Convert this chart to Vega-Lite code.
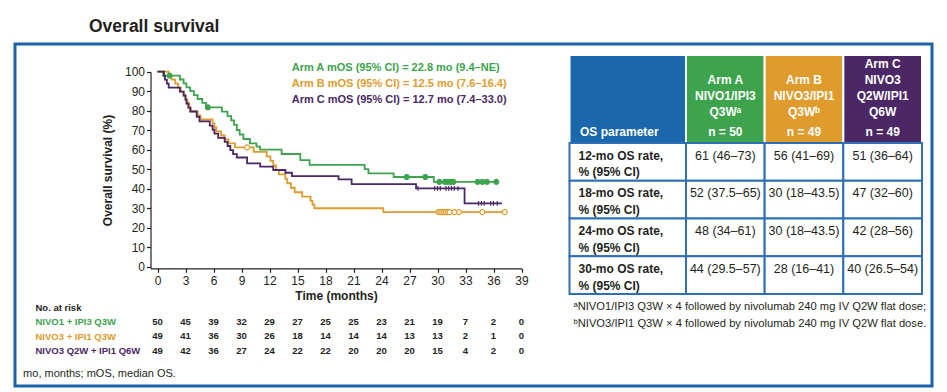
{
  "$schema": "https://vega.github.io/schema/vega-lite/v6.json",
  "width": 917,
  "height": 342,
  "autosize": {"type": "none"},
  "padding": {"left": 15, "top": 44, "right": 15, "bottom": 6},
  "background": "white",
  "title": {"text": "Overall survival", "anchor": "start", "frame": "group", "dx": 74, "offset": 9, "font": "Liberation Sans, Arial, sans-serif", "fontSize": 17.5, "fontWeight": "bold", "color": "#231f20"},
  "datasets": {
    "km": [
      {"arm":"A","t":0,"s":100},{"arm":"A","t":0.6,"s":98},{"arm":"A","t":2.4,"s":96},{"arm":"A","t":2.8,"s":94},{"arm":"A","t":3.1,"s":92},{"arm":"A","t":3.5,"s":90},{"arm":"A","t":3.9,"s":88},{"arm":"A","t":4.3,"s":86},{"arm":"A","t":4.8,"s":84},{"arm":"A","t":5.2,"s":81.7},{"arm":"A","t":6.9,"s":79.5},{"arm":"A","t":7.5,"s":77.2},{"arm":"A","t":7.9,"s":75},{"arm":"A","t":8.2,"s":72.7},{"arm":"A","t":8.5,"s":70.1},{"arm":"A","t":8.8,"s":67.8},{"arm":"A","t":9.2,"s":65.5},{"arm":"A","t":9.9,"s":63.3},{"arm":"A","t":10.6,"s":61.6},{"arm":"A","t":11,"s":60},{"arm":"A","t":13.3,"s":57.8},{"arm":"A","t":15.3,"s":54.7},{"arm":"A","t":16.3,"s":52.2},{"arm":"A","t":22.2,"s":50},{"arm":"A","t":22.6,"s":47.9},{"arm":"A","t":25.3,"s":46},{"arm":"A","t":29.6,"s":43.5},{"arm":"A","t":36.3,"s":43.5},
      {"arm":"B","t":0,"s":100},{"arm":"B","t":1.2,"s":97.9},{"arm":"B","t":1.5,"s":95.9},{"arm":"B","t":1.9,"s":93.9},{"arm":"B","t":2.2,"s":91.8},{"arm":"B","t":2.5,"s":89.8},{"arm":"B","t":2.8,"s":87.8},{"arm":"B","t":3,"s":85.7},{"arm":"B","t":3.2,"s":83.7},{"arm":"B","t":3.4,"s":81.6},{"arm":"B","t":3.6,"s":79.6},{"arm":"B","t":4.3,"s":77.6},{"arm":"B","t":4.6,"s":75.5},{"arm":"B","t":5.9,"s":73.5},{"arm":"B","t":6.1,"s":71.4},{"arm":"B","t":6.3,"s":69.4},{"arm":"B","t":6.8,"s":67.3},{"arm":"B","t":7.2,"s":65.3},{"arm":"B","t":7.6,"s":63.3},{"arm":"B","t":8.3,"s":61.2},{"arm":"B","t":10.3,"s":58.9},{"arm":"B","t":11.7,"s":56.6},{"arm":"B","t":12.1,"s":54.3},{"arm":"B","t":12.4,"s":52},{"arm":"B","t":12.7,"s":49.7},{"arm":"B","t":13,"s":47.4},{"arm":"B","t":13.7,"s":45.1},{"arm":"B","t":13.9,"s":42.8},{"arm":"B","t":14.3,"s":40.5},{"arm":"B","t":14.7,"s":38.2},{"arm":"B","t":15.5,"s":35.9},{"arm":"B","t":16.4,"s":33.8},{"arm":"B","t":16.6,"s":31.9},{"arm":"B","t":16.8,"s":30},{"arm":"B","t":24.2,"s":28},{"arm":"B","t":37.2,"s":28},
      {"arm":"C","t":0,"s":100},{"arm":"C","t":0.7,"s":97.9},{"arm":"C","t":0.8,"s":95.9},{"arm":"C","t":1,"s":93.9},{"arm":"C","t":1.2,"s":91.8},{"arm":"C","t":2.4,"s":89.8},{"arm":"C","t":2.8,"s":87.8},{"arm":"C","t":3,"s":85.7},{"arm":"C","t":3.1,"s":83.7},{"arm":"C","t":3.3,"s":81.6},{"arm":"C","t":3.5,"s":79.6},{"arm":"C","t":4.2,"s":76.9},{"arm":"C","t":4.5,"s":74.5},{"arm":"C","t":5.6,"s":72.4},{"arm":"C","t":5.9,"s":70.3},{"arm":"C","t":6.1,"s":68.2},{"arm":"C","t":6.5,"s":66.1},{"arm":"C","t":7.2,"s":64},{"arm":"C","t":7.5,"s":61.9},{"arm":"C","t":7.8,"s":59.8},{"arm":"C","t":8.1,"s":57.7},{"arm":"C","t":8.5,"s":56},{"arm":"C","t":9.6,"s":53},{"arm":"C","t":11,"s":51.3},{"arm":"C","t":12.4,"s":49.6},{"arm":"C","t":13.7,"s":48.2},{"arm":"C","t":14.4,"s":46.5},{"arm":"C","t":19.4,"s":44.8},{"arm":"C","t":20.8,"s":42.4},{"arm":"C","t":27.7,"s":40.2},{"arm":"C","t":32.9,"s":32.5},{"arm":"C","t":36.9,"s":32.5}
    ],
    "censor": [
      {"arm":"A","t":1.3,"s":98},{"arm":"A","t":5.4,"s":81.7},{"arm":"A","t":26.7,"s":46},{"arm":"A","t":28.7,"s":46},{"arm":"A","t":30.2,"s":43.5},{"arm":"A","t":30.8,"s":43.5},{"arm":"A","t":31.1,"s":43.5},{"arm":"A","t":31.4,"s":43.5},{"arm":"A","t":31.7,"s":43.5},{"arm":"A","t":34.3,"s":43.5},{"arm":"A","t":34.8,"s":43.5},{"arm":"A","t":35.3,"s":43.5},{"arm":"A","t":36.3,"s":43.5},
      {"arm":"B","t":9.6,"s":61.2},{"arm":"B","t":30.1,"s":28},{"arm":"B","t":30.3,"s":28},{"arm":"B","t":30.5,"s":28},{"arm":"B","t":30.7,"s":28},{"arm":"B","t":30.9,"s":28},{"arm":"B","t":31.1,"s":28},{"arm":"B","t":31.3,"s":28},{"arm":"B","t":31.8,"s":28},{"arm":"B","t":32.3,"s":28},{"arm":"B","t":34.8,"s":28},{"arm":"B","t":37.2,"s":28},
      {"arm":"C","t":27.9,"s":40.2},{"arm":"C","t":29.7,"s":40.2},{"arm":"C","t":30,"s":40.2},{"arm":"C","t":30.3,"s":40.2},{"arm":"C","t":30.9,"s":40.2},{"arm":"C","t":31.2,"s":40.2},{"arm":"C","t":31.5,"s":40.2},{"arm":"C","t":31.8,"s":40.2},{"arm":"C","t":32.2,"s":40.2},{"arm":"C","t":34.4,"s":32.5},{"arm":"C","t":34.7,"s":32.5},{"arm":"C","t":35,"s":32.5},{"arm":"C","t":35.7,"s":32.5},{"arm":"C","t":36,"s":32.5},{"arm":"C","t":36.4,"s":32.5}
    ],
    "mos": [
      {"arm":"A","label":"Arm A mOS (95% CI) = 22.8 mo (9.4–NE)"},
      {"arm":"B","label":"Arm B mOS (95% CI) = 12.5 mo (7.6–16.4)"},
      {"arm":"C","label":"Arm C mOS (95% CI) = 12.7 mo (7.4–33.0)"}
    ],
    "risk": [
      {"regimen":"NIVO1 + IPI3 Q3W","t":0,"n":50},{"regimen":"NIVO1 + IPI3 Q3W","t":3,"n":45},{"regimen":"NIVO1 + IPI3 Q3W","t":6,"n":39},{"regimen":"NIVO1 + IPI3 Q3W","t":9,"n":32},{"regimen":"NIVO1 + IPI3 Q3W","t":12,"n":29},{"regimen":"NIVO1 + IPI3 Q3W","t":15,"n":27},{"regimen":"NIVO1 + IPI3 Q3W","t":18,"n":25},{"regimen":"NIVO1 + IPI3 Q3W","t":21,"n":25},{"regimen":"NIVO1 + IPI3 Q3W","t":24,"n":23},{"regimen":"NIVO1 + IPI3 Q3W","t":27,"n":21},{"regimen":"NIVO1 + IPI3 Q3W","t":30,"n":19},{"regimen":"NIVO1 + IPI3 Q3W","t":33,"n":7},{"regimen":"NIVO1 + IPI3 Q3W","t":36,"n":2},{"regimen":"NIVO1 + IPI3 Q3W","t":39,"n":0},
      {"regimen":"NIVO3 + IPI1 Q3W","t":0,"n":49},{"regimen":"NIVO3 + IPI1 Q3W","t":3,"n":41},{"regimen":"NIVO3 + IPI1 Q3W","t":6,"n":36},{"regimen":"NIVO3 + IPI1 Q3W","t":9,"n":30},{"regimen":"NIVO3 + IPI1 Q3W","t":12,"n":26},{"regimen":"NIVO3 + IPI1 Q3W","t":15,"n":18},{"regimen":"NIVO3 + IPI1 Q3W","t":18,"n":14},{"regimen":"NIVO3 + IPI1 Q3W","t":21,"n":14},{"regimen":"NIVO3 + IPI1 Q3W","t":24,"n":14},{"regimen":"NIVO3 + IPI1 Q3W","t":27,"n":13},{"regimen":"NIVO3 + IPI1 Q3W","t":30,"n":13},{"regimen":"NIVO3 + IPI1 Q3W","t":33,"n":2},{"regimen":"NIVO3 + IPI1 Q3W","t":36,"n":1},{"regimen":"NIVO3 + IPI1 Q3W","t":39,"n":0},
      {"regimen":"NIVO3 Q2W + IPI1 Q6W","t":0,"n":49},{"regimen":"NIVO3 Q2W + IPI1 Q6W","t":3,"n":42},{"regimen":"NIVO3 Q2W + IPI1 Q6W","t":6,"n":36},{"regimen":"NIVO3 Q2W + IPI1 Q6W","t":9,"n":27},{"regimen":"NIVO3 Q2W + IPI1 Q6W","t":12,"n":24},{"regimen":"NIVO3 Q2W + IPI1 Q6W","t":15,"n":22},{"regimen":"NIVO3 Q2W + IPI1 Q6W","t":18,"n":22},{"regimen":"NIVO3 Q2W + IPI1 Q6W","t":21,"n":20},{"regimen":"NIVO3 Q2W + IPI1 Q6W","t":24,"n":20},{"regimen":"NIVO3 Q2W + IPI1 Q6W","t":27,"n":20},{"regimen":"NIVO3 Q2W + IPI1 Q6W","t":30,"n":15},{"regimen":"NIVO3 Q2W + IPI1 Q6W","t":33,"n":4},{"regimen":"NIVO3 Q2W + IPI1 Q6W","t":36,"n":2},{"regimen":"NIVO3 Q2W + IPI1 Q6W","t":39,"n":0}
    ],
    "head": [
      {"arm":"A","n":"n = 50"},
      {"arm":"B","n":"n = 49"},
      {"arm":"C","n":"n = 49"}
    ],
    "headlines": [
      {"arm":"A","ln":2,"text":"Arm A"},{"arm":"A","ln":3,"text":"NIVO1/IPI3"},{"arm":"A","ln":4,"text":"Q3Wᵃ"},
      {"arm":"B","ln":2,"text":"Arm B"},{"arm":"B","ln":3,"text":"NIVO3/IPI1"},{"arm":"B","ln":4,"text":"Q3Wᵇ"},
      {"arm":"C","ln":1,"text":"Arm C"},{"arm":"C","ln":2,"text":"NIVO3"},{"arm":"C","ln":3,"text":"Q2W/IPI1"},{"arm":"C","ln":4,"text":"Q6W"}
    ],
    "params": [
      {"col":"P","row":"12-mo","param":"12-mo OS rate,\n% (95% CI)"},
      {"col":"P","row":"18-mo","param":"18-mo OS rate,\n% (95% CI)"},
      {"col":"P","row":"24-mo","param":"24-mo OS rate,\n% (95% CI)"},
      {"col":"P","row":"30-mo","param":"30-mo OS rate,\n% (95% CI)"}
    ],
    "cells": [
      {"arm":"A","row":"12-mo","value":"61 (46–73)"},{"arm":"B","row":"12-mo","value":"56 (41–69)"},{"arm":"C","row":"12-mo","value":"51 (36–64)"},
      {"arm":"A","row":"18-mo","value":"52 (37.5–65)"},{"arm":"B","row":"18-mo","value":"30 (18–43.5)"},{"arm":"C","row":"18-mo","value":"47 (32–60)"},
      {"arm":"A","row":"24-mo","value":"48 (34–61)"},{"arm":"B","row":"24-mo","value":"30 (18–43.5)"},{"arm":"C","row":"24-mo","value":"42 (28–56)"},
      {"arm":"A","row":"30-mo","value":"44 (29.5–57)"},{"arm":"B","row":"30-mo","value":"28 (16–41)"},{"arm":"C","row":"30-mo","value":"40 (26.5–54)"}
    ]
  },
  "layer": [
    {
      "layer": [
        {
          "data": {"name": "km"},
          "mark": {"type": "line", "interpolate": "step-after", "strokeWidth": 1.8},
          "encoding": {
            "x": {"field": "t", "type": "quantitative", "scale": {"domain": [-0.75, 39], "range": [135.5, 506.5], "nice": false, "zero": false},
              "axis": {"values": [0,3,6,9,12,15,18,21,24,27,30,33,36,39], "title": "Time (months)", "offset": -117.7, "domainWidth": 1.2, "tickWidth": 1.2, "tickSize": 4, "labelFontSize": 12, "labelPadding": 3.5, "labelFlush": false, "labelOverlap": false, "titleFontSize": 12, "titleFontWeight": "bold", "titlePadding": 4}},
            "y": {"field": "s", "type": "quantitative", "scale": {"domain": [-0.8, 100], "range": [224.3, 27.7], "nice": false, "zero": false},
              "axis": {"values": [0,10,20,30,40,50,60,70,80,90,100], "tickCount": 11, "title": "Overall survival (%)", "offset": -135.5, "domainWidth": 1.2, "tickWidth": 1.2, "tickSize": 4, "labelFontSize": 12, "labelPadding": 2, "labelOverlap": false, "titleFontSize": 12, "titleFontWeight": "bold", "titlePadding": 10}},
            "color": {"field": "arm", "type": "nominal", "scale": {"domain": ["A","B","C"], "range": ["#3da44d","#e09b2d","#4b2865"]}, "legend": null}
          }
        },
        {
          "data": {"name": "censor"},
          "mark": {"type": "point", "size": 24, "strokeWidth": 1.2, "opacity": 1, "filled": true},
          "encoding": {
            "x": {"field": "t", "type": "quantitative",
              "axis": {"values": [0,3,6,9,12,15,18,21,24,27,30,33,36,39], "title": "Time (months)", "offset": -117.7, "domainWidth": 1.2, "tickWidth": 1.2, "tickSize": 4, "labelFontSize": 12, "labelPadding": 3.5, "labelFlush": false, "labelOverlap": false, "titleFontSize": 12, "titleFontWeight": "bold", "titlePadding": 4}},
            "y": {"field": "s", "type": "quantitative",
              "axis": {"values": [0,10,20,30,40,50,60,70,80,90,100], "tickCount": 11, "title": "Overall survival (%)", "offset": -135.5, "domainWidth": 1.2, "tickWidth": 1.2, "tickSize": 4, "labelFontSize": 12, "labelPadding": 2, "labelOverlap": false, "titleFontSize": 12, "titleFontWeight": "bold", "titlePadding": 10}},
            "shape": {"field": "arm", "type": "nominal", "scale": {"domain": ["A","B","C"], "range": ["circle","circle","M0,-1L0,1"]}, "legend": null},
            "fill": {"field": "arm", "type": "nominal", "scale": {"domain": ["A","B","C"], "range": ["#3da44d","#ffffff","#4b2865"]}, "legend": null},
            "stroke": {"field": "arm", "type": "nominal", "scale": {"domain": ["A","B","C"], "range": ["#3da44d","#e09b2d","#4b2865"]}, "legend": null}
          }
        }
      ]
    },
    {
      "data": {"name": "mos"},
      "mark": {"type": "text", "align": "left", "baseline": "middle", "font": "Liberation Sans, Arial, sans-serif", "fontSize": 11, "fontWeight": "bold"},
      "encoding": {
        "x": {"datum": 14.38, "type": "quantitative", "scale": {"domain": [-0.75, 39], "range": [135.5, 506.5], "nice": false, "zero": false}, "axis": null},
        "y": {"field": "arm", "type": "nominal", "scale": {"type": "point", "domain": ["A","B","C"], "range": [24.3, 55.9], "padding": 0}, "axis": null},
        "text": {"field": "label"},
        "color": {"field": "arm", "type": "nominal", "scale": {"domain": ["A","B","C"], "range": ["#3da44d","#e09b2d","#4b2865"]}, "legend": null}
      }
    },
    {
      "layer": [
        {
          "data": {"name": "risk"},
          "mark": {"type": "text", "font": "Liberation Sans, Arial, sans-serif", "fontSize": 9.5, "fontWeight": "bold", "color": "#231f20", "baseline": "middle", "align": "center"},
          "encoding": {
            "x": {"field": "t", "type": "quantitative", "scale": {"domain": [-0.75, 39], "range": [135.5, 506.5], "nice": false, "zero": false}, "axis": null},
            "y": {"field": "regimen", "type": "nominal", "scale": {"type": "point", "domain": ["No. at risk", "NIVO1 + IPI3 Q3W", "NIVO3 + IPI1 Q3W", "NIVO3 Q2W + IPI1 Q6W"], "range": [263.3, 306.9], "padding": 0},
              "axis": {"orient": "left", "offset": -20, "domain": false, "ticks": false, "tickSize": 0, "labelPadding": 0, "labelAlign": "left", "labelBaseline": "middle", "labelFontSize": 9.5, "labelFontWeight": "bold", "labelOverlap": false, "labelBound": false, "labelLimit": 0, "title": null,
                "labelColor": {"condition": [{"test": "datum.value === 'NIVO1 + IPI3 Q3W'", "value": "#3da44d"}, {"test": "datum.value === 'NIVO3 + IPI1 Q3W'", "value": "#e09b2d"}, {"test": "datum.value === 'NIVO3 Q2W + IPI1 Q6W'", "value": "#4b2865"}], "value": "#231f20"}}},
            "text": {"field": "n"}
          }
        },
        {
          "data": {"values": [{"note": "mo, months; mOS, median OS."}]},
          "mark": {"type": "text", "align": "left", "baseline": "middle", "dy": 23.2, "font": "Liberation Sans, Arial, sans-serif", "fontSize": 11, "color": "#231f20"},
          "encoding": {
            "x": {"datum": -14.4, "type": "quantitative"},
            "y": {"datum": "NIVO3 Q2W + IPI1 Q6W", "type": "nominal"},
            "text": {"field": "note"}
          }
        }
      ]
    },
    {
      "data": {"values": [{"col": "P", "label": "OS parameter"}]},
      "layer": [
        {
          "mark": {"type": "rect", "fill": "#1a67ab", "stroke": "white", "strokeWidth": 2},
          "encoding": {
            "x": {"field": "col", "type": "nominal", "scale": {"type": "band", "domain": ["P"], "range": [554.5, 671], "paddingInner": 0, "paddingOuter": 0}, "axis": null},
            "y": {"datum": "H", "type": "nominal", "scale": {"type": "band", "domain": ["H"], "range": [11, 99], "paddingInner": 0, "paddingOuter": 0}, "axis": null}
          }
        },
        {
          "mark": {"type": "text", "align": "left", "baseline": "middle", "dx": 10.5, "dy": 33.4, "font": "Liberation Sans, Arial, sans-serif", "fontSize": 12, "fontWeight": "bold", "color": "white"},
          "encoding": {
            "x": {"field": "col", "type": "nominal", "bandPosition": 0},
            "y": {"datum": "H", "type": "nominal"},
            "text": {"field": "label"}
          }
        }
      ]
    },
    {
      "data": {"name": "head"},
      "layer": [
        {
          "mark": {"type": "rect", "stroke": "white", "strokeWidth": 2},
          "encoding": {
            "x": {"field": "arm", "type": "nominal", "scale": {"type": "band", "domain": ["A","B","C"], "range": [671, 907], "paddingInner": 0, "paddingOuter": 0}, "axis": null},
            "y": {"datum": "H", "type": "nominal", "scale": {"type": "band", "domain": ["H"], "range": [11, 99], "paddingInner": 0, "paddingOuter": 0}, "axis": null},
            "color": {"field": "arm", "type": "nominal", "scale": {"domain": ["A","B","C"], "range": ["#3da44d","#e09b2d","#4b2865"]}, "legend": null}
          }
        },
        {
          "mark": {"type": "text", "align": "center", "baseline": "middle", "dy": 33.4, "font": "Liberation Sans, Arial, sans-serif", "fontSize": 12, "fontWeight": "bold", "color": "white"},
          "encoding": {
            "x": {"field": "arm", "type": "nominal"},
            "y": {"datum": "H", "type": "nominal"},
            "text": {"field": "n"}
          }
        }
      ]
    },
    {
      "data": {"name": "headlines"},
      "mark": {"type": "text", "align": "center", "baseline": "middle", "font": "Liberation Sans, DejaVu Sans, sans-serif", "fontSize": 12, "fontWeight": "bold", "color": "white"},
      "encoding": {
        "x": {"field": "arm", "type": "nominal", "scale": {"type": "band", "domain": ["A","B","C"], "range": [671, 907], "paddingInner": 0, "paddingOuter": 0}, "axis": null},
        "y": {"field": "ln", "type": "ordinal", "scale": {"type": "point", "domain": [1,2,3,4], "range": [20, 68.4], "padding": 0}, "axis": null},
        "text": {"field": "text"}
      }
    },
    {
      "layer": [
        {
          "data": {"name": "params"},
          "mark": {"type": "rect", "fill": "white", "stroke": "#2e6fb5", "strokeWidth": 2},
          "encoding": {
            "x": {"field": "col", "type": "nominal", "scale": {"type": "band", "domain": ["P"], "range": [554.5, 671], "paddingInner": 0, "paddingOuter": 0}, "axis": null},
            "y": {"field": "row", "type": "nominal", "scale": {"type": "band", "domain": ["12-mo","18-mo","24-mo","30-mo"], "range": [99, 250], "paddingInner": 0, "paddingOuter": 0}, "axis": null}
          }
        },
        {
          "data": {"name": "params"},
          "mark": {"type": "text", "align": "left", "baseline": "middle", "dx": 9, "dy": -6.2, "lineBreak": "\n", "lineHeight": 16.7, "font": "Liberation Sans, Arial, sans-serif", "fontSize": 12, "fontWeight": "bold", "color": "#231f20"},
          "encoding": {
            "x": {"field": "col", "type": "nominal", "bandPosition": 0},
            "y": {"field": "row", "type": "nominal"},
            "text": {"field": "param"}
          }
        },
        {
          "data": {"values": [{"note": "ᵃNIVO1/IPI3 Q3W × 4 followed by nivolumab 240 mg IV Q2W flat dose;\nᵇNIVO3/IPI1 Q3W × 4 followed by nivolumab 240 mg IV Q2W flat dose."}]},
          "mark": {"type": "text", "align": "left", "baseline": "middle", "dx": 4, "dy": 32.3, "lineBreak": "\n", "lineHeight": 16.6, "font": "Liberation Sans, DejaVu Sans, sans-serif", "fontSize": 11.2, "color": "#231f20"},
          "encoding": {
            "x": {"datum": "P", "type": "nominal", "bandPosition": 0},
            "y": {"datum": "30-mo", "type": "nominal"},
            "text": {"field": "note"}
          }
        }
      ]
    },
    {
      "data": {"name": "cells"},
      "layer": [
        {
          "mark": {"type": "rect", "fill": "white", "stroke": "#2e6fb5", "strokeWidth": 2},
          "encoding": {
            "x": {"field": "arm", "type": "nominal", "scale": {"type": "band", "domain": ["A","B","C"], "range": [671, 907], "paddingInner": 0, "paddingOuter": 0}, "axis": null},
            "y": {"field": "row", "type": "nominal", "scale": {"type": "band", "domain": ["12-mo","18-mo","24-mo","30-mo"], "range": [99, 250], "paddingInner": 0, "paddingOuter": 0}, "axis": null}
          }
        },
        {
          "mark": {"type": "text", "align": "center", "baseline": "middle", "dy": -6.2, "font": "Liberation Sans, Arial, sans-serif", "fontSize": 12.5, "color": "#231f20"},
          "encoding": {
            "x": {"field": "arm", "type": "nominal"},
            "y": {"field": "row", "type": "nominal"},
            "text": {"field": "value"}
          }
        }
      ]
    }
  ],
  "resolve": {"scale": {"x": "independent", "y": "independent"}},
  "config": {
    "view": {"stroke": "#1c64a8", "strokeWidth": 3},
    "axis": {"grid": false, "labelFont": "Liberation Sans, Arial, sans-serif", "titleFont": "Liberation Sans, Arial, sans-serif", "labelColor": "#231f20", "titleColor": "#231f20", "domainColor": "#231f20", "tickColor": "#231f20"}
  }
}
